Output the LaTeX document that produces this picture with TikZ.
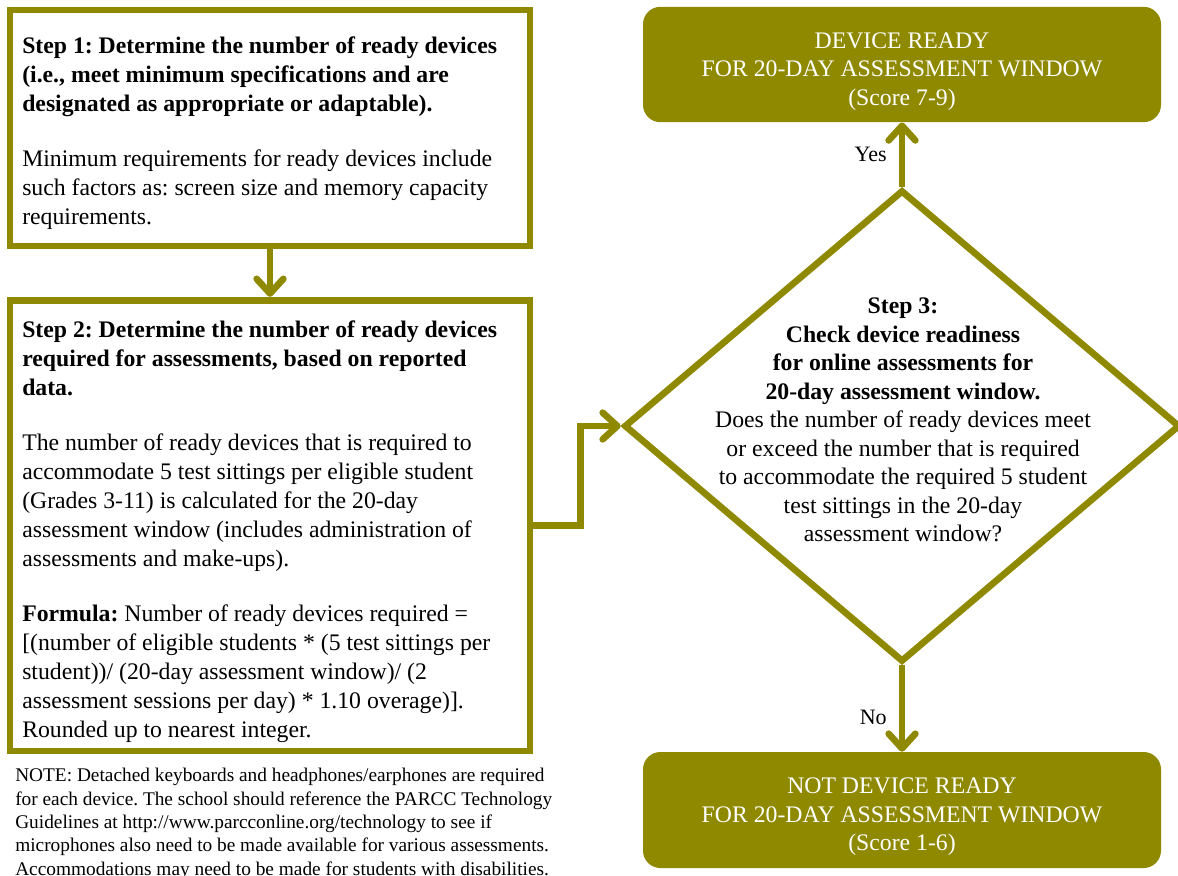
\documentclass[tikz,border=0pt]{standalone}
\usepackage{fontspec}
\setmainfont{Liberation Serif}
\usetikzlibrary{shapes.geometric,arrows.meta}
\definecolor{olive}{RGB}{143,137,0}
\frenchspacing
\tikzset{
  box/.style={draw=olive, line width=5pt, rectangle, inner sep=0pt, fill=white},
  endbox/.style={fill=olive, rectangle, rounded corners=13pt, inner sep=0pt},
  endtext/.style={inner sep=0pt, text=white, align=center, font=\fontsize{17.8}{21.3}\selectfont},
  txt/.style={inner sep=0pt, align=left, anchor=north west, font=\fontsize{17.8}{21.75}\selectfont},
  arr/.style={draw=olive, line width=5pt, -{Straight Barb[length=11pt, width=20pt, round]}},
  lbl/.style={inner sep=0pt, font=\fontsize{16.5}{20}\selectfont},
}
\begin{document}
\begin{tikzpicture}[x=0.75pt, y=-0.75pt]
\useasboundingbox (0,0) rectangle (1178,875);
% boxes
\node[box, minimum width=390pt, minimum height=177pt] (box1) at (270,128) {};
\node[box, minimum width=390pt, minimum height=338pt] (box2) at (270,525.5) {};
\node[draw=olive, line width=5pt, diamond, inner sep=0pt, minimum width=417pt, minimum height=354pt] (d) at (902,426) {};
\node[endbox, minimum width=388.5pt, minimum height=86.5pt] (top) at (902,64.5) {};
\node[endtext] (toptext) at (902,71.5) {DEVICE READY\\FOR 20-DAY ASSESSMENT WINDOW\\(Score 7-9)};
\node[endbox, minimum width=388.5pt, minimum height=87pt] (bot) at (902,810) {};
\node[endtext] (bottext) at (902,817) {NOT DEVICE READY\\FOR 20-DAY ASSESSMENT WINDOW\\(Score 1-6)};
% texts
\node[txt] (t1) at (22,37) {\textbf{Step 1: Determine the number of ready devices}\\
\textbf{(i.e., meet minimum specifications and are}\\
\textbf{designated as appropriate or adaptable).}\\[19.5pt]
Minimum requirements for ready devices include\\
such factors as: screen size and memory capacity\\
requirements.};
\node[txt] (t2) at (22,321) {\textbf{Step 2: Determine the number of ready devices}\\
\textbf{required for assessments, based on reported}\\
\textbf{data.}\\[19.5pt]
The number of ready devices that is required to\\
accommodate 5 test sittings per eligible student\\
(Grades 3-11) is calculated for the 20-day\\
assessment window (includes administration of\\
assessments and make-ups).\\[19.5pt]
\textbf{Formula:} Number of ready devices required =\\
{[}(number of eligible students * (5 test sittings per\\
student))/ (20-day assessment window)/ (2\\
assessment sessions per day) * 1.10 overage){]}.\\
Rounded up to nearest integer.};
\node[inner sep=0pt, align=center, font=\fontsize{17.8}{21.4}\selectfont] (t3) at (903,420) {\textbf{Step 3:}\\
\textbf{Check device readiness}\\
\textbf{for online assessments for}\\
\textbf{20-day assessment window.}\\
Does the number of ready devices meet\\
or exceed the number that is required\\
to accommodate the required 5 student\\
test sittings in the 20-day\\
assessment window?};
\node[inner sep=0pt, align=left, anchor=north west, font=\fontsize{14.5}{17.5}\selectfont] (note) at (15,768) {NOTE: Detached keyboards and headphones/earphones are required\\
for each device. The school should reference the PARCC Technology\\
Guidelines at http://www.parcconline.org/technology to see if\\
microphones also need to be made available for various assessments.\\
Accommodations may need to be made for students with disabilities.};
% connectors
\draw[arr] (box1.south) -- (box2.north);
\draw[arr] (box2.east) -- ++(47,0) |- (d.west);
\draw[arr] (d.north) -- node[lbl, pos=0.5, left=9pt] (yes) {Yes} (top.south);
\draw[arr] (d.south) -- node[lbl, pos=0.6, left=9pt] (no) {No} (bot.north);
\end{tikzpicture}
\end{document}
